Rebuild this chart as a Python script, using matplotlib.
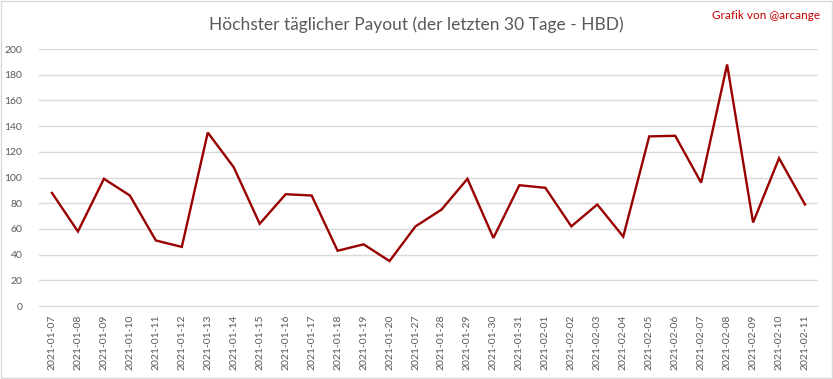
import matplotlib
matplotlib.use("Agg")
import matplotlib.pyplot as plt
from matplotlib.patches import Rectangle

dates = ["2021-01-07", "2021-01-08", "2021-01-09", "2021-01-10", "2021-01-11",
         "2021-01-12", "2021-01-13", "2021-01-14", "2021-01-15", "2021-01-16",
         "2021-01-17", "2021-01-18", "2021-01-19", "2021-01-20", "2021-01-27",
         "2021-01-28", "2021-01-29", "2021-01-30", "2021-01-31", "2021-02-01",
         "2021-02-02", "2021-02-03", "2021-02-04", "2021-02-05", "2021-02-06",
         "2021-02-07", "2021-02-08", "2021-02-09", "2021-02-10", "2021-02-11"]
payout = [88, 58, 99, 86, 51, 46, 135, 108, 64, 87,
          86, 43, 48, 35, 62, 75, 99, 53, 94, 92,
          62, 79, 54, 132, 132.5, 96, 188, 65, 115, 79]
yticks = list(range(0, 201, 20))

title = "Höchster täglicher Payout (der letzten 30 Tage - HBD)"
credit = "Grafik von @arcange"

plt.rcParams['font.family'] = ['Lato', 'DejaVu Sans']

fig = plt.figure(figsize=(8.33, 3.79), dpi=100)
fig.patches.append(Rectangle((0.0015, 0.002), 0.997, 0.995, transform=fig.transFigure,
                             fill=False, edgecolor="#D9D9D9", linewidth=1))
ax = fig.add_axes([0.0468, 0.1926, 0.9352, 0.678])

x = list(range(len(dates)))
ax.plot(x, payout, color="#990000", linewidth=1.7, solid_joinstyle="miter")
ax.set_xlim(-0.5, len(dates) - 0.5)
ax.set_ylim(0, 200)
ax.set_yticks(yticks)
ax.set_yticklabels([str(v) for v in yticks])
ax.set_xticks(x)
ax.set_xticklabels(dates, rotation=90)
ax.grid(axis="y", color="#D9D9D9", linewidth=1)
ax.set_axisbelow(True)
for s in ["top", "right", "left"]:
    ax.spines[s].set_visible(False)
ax.spines["bottom"].set_color("#D9D9D9")
ax.tick_params(axis="both", length=0, colors="#595959", labelsize=7.5)
ax.tick_params(axis="x", pad=6)
ax.tick_params(axis="y", pad=12)

fig.text(0.5, 0.935, title, ha="center", va="center", fontsize=12.5, color="#595959",
         fontweight="normal")
fig.text(0.985, 0.96, credit, ha="right", va="center", fontsize=8.5, color="#C00000")

fig.savefig("out.png", dpi=100)
